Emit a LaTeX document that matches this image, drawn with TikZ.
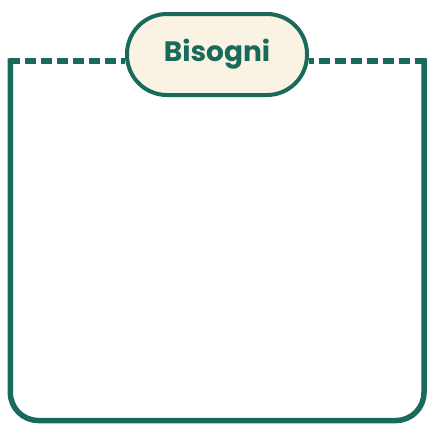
\documentclass[tikz,border=0pt]{standalone}
\usepackage{fontspec}
\setmainfont{Poppins}

\definecolor{greend}{RGB}{24,107,91}
\definecolor{cremed}{RGB}{250,243,228}

\tikzset{
    frameline/.style = {draw = greend, line width = 5.5pt},
    dashline/.style = {frameline, dash pattern = on 11pt off 5pt},
    titlebox/.style = {draw = greend, fill = cremed, line width = 4pt,
        rounded corners = 40pt, minimum width = 180pt, minimum height = 81pt,
        inner sep = 0pt, text = greend, font = \fontsize{28}{34}\selectfont\bfseries}
}

\begin{document}
\begin{tikzpicture}[x = 1pt, y = -1pt]
                    \useasboundingbox (0,0) rectangle (427,424);
                    % box sides, round at the bottom
                    \draw[frameline, line cap = rect, rounded corners = 28pt]
                        (10.3,61) -- (10.3,420.5) -- (424,420.5) -- (424,61);
                    \node[titlebox] (title) at (217,54.5) {Bisogni};
                    \coordinate (leftend) at (9,61);
                    \coordinate (rightend) at (426,61);
                    \draw[dashline] (leftend) -- (title.west |- leftend);
                    \draw[dashline] (rightend) -- (title.east |- rightend);
                \end{tikzpicture}
\end{document}
